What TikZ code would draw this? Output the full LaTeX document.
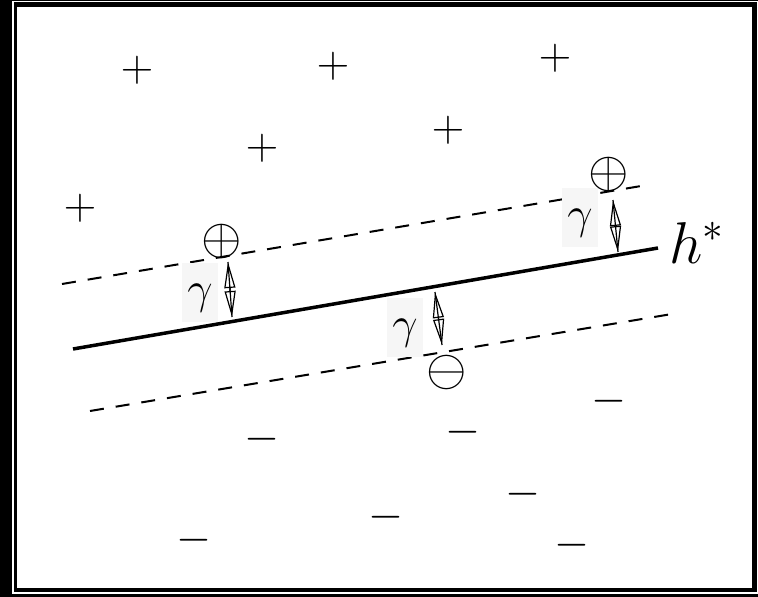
\RequirePackage{fix-cm}
\documentclass[tikz,border=0pt]{standalone}
\usepackage{amsmath}
\usepackage{tikz}
\usetikzlibrary{arrows.meta}
\tikzset{>=latex}

\begin{document}
\begin{tikzpicture}[x=1pt,y=-1pt]
  \tikzstyle{plussign}=[inner sep=0,font=\fontsize{45}{45}\selectfont]
  \tikzstyle{circsign}=[inner sep=0,font=\fontsize{52}{52}\selectfont]
  \tikzstyle{margin}=[line width=2,dash pattern=on 14pt off 12pt]
  \tikzstyle{gapbox}=[fill=gray!7,inner sep=0,minimum width=36,minimum height=59,
    text height=31pt,text depth=9pt,font=\fontsize{45}{45}\selectfont]
  \tikzstyle{gaparrow}=[line width=1.2pt,
    {Triangle[open,length=26pt,width=11pt]}-{Triangle[open,length=26pt,width=11pt]},
    postaction={draw,-}]
  % frame
  \fill[black] (0,0) rectangle (758,597);
  \fill[white] (12,1) rectangle (758,593.5);
  \fill[black] (14,2.3) rectangle (757.3,592);
  \fill[white] (17,7) rectangle (752,588);
  % separating line and margins
  \coordinate (hl) at (73,349);
  \coordinate (hr) at (658,248);
  \coordinate (ul) at (62,284);
  \coordinate (ur) at (647,185);
  \coordinate (ll) at (90,411);
  \coordinate (lr) at (672,314);
  \draw[line width=3.5] (hl) -- (hr);
  \draw[margin] (ul) -- (ur);
  \draw[margin] (ll) -- (lr);
  \node[anchor=base west,inner sep=0,font=\fontsize{59}{59}\selectfont] (hs) at (669,263) {$h^*$};
  % positive points
  \node[plussign] (p1) at (137,70) {$+$};
  \node[plussign] (p2) at (333,66) {$+$};
  \node[plussign] (p3) at (555,58) {$+$};
  \node[plussign] (p4) at (262,148) {$+$};
  \node[plussign] (p5) at (448,130) {$+$};
  \node[plussign] (p6) at (80,208) {$+$};
  % negative points
  \node[plussign] (n1) at (609,401) {$-$};
  \node[plussign] (n2) at (463,432) {$-$};
  \node[plussign] (n3) at (262,439) {$-$};
  \node[plussign] (n4) at (523,494) {$-$};
  \node[plussign] (n5) at (386,517) {$-$};
  \node[plussign] (n6) at (194,540) {$-$};
  \node[plussign] (n7) at (572,545) {$-$};
  % support vectors
  \node[circsign] (s1) at (222,241) {$\oplus$};
  \node[circsign] (s2) at (609,174) {$\oplus$};
  \node[circsign] (s3) at (447,372) {$\ominus$};
  % margins gamma
  \node[gapbox] (g1) at (200,292) {$\gamma$};
  \node[gapbox] (g2) at (405,327) {$\gamma$};
  \node[gapbox] (g3) at (580,217) {$\gamma$};
  \coordinate (a1) at (228,262);
  \coordinate (b1) at (232,317);
  \coordinate (a2) at (435,292);
  \coordinate (b2) at (442,345);
  \coordinate (a3) at (613,200);
  \coordinate (b3) at (618,252);
  \draw[gaparrow] (a1) -- (b1);
  \draw[gaparrow] (a2) -- (b2);
  \draw[gaparrow] (a3) -- (b3);
\end{tikzpicture}
\end{document}
